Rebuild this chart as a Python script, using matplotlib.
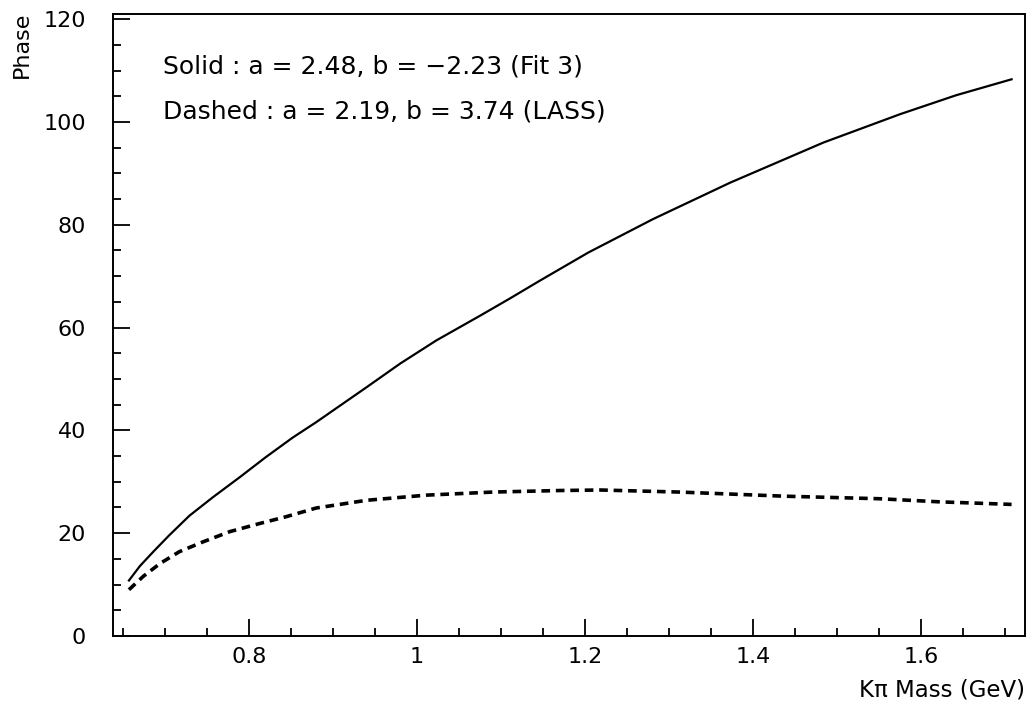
import matplotlib
matplotlib.use("Agg")
import matplotlib.pyplot as plt
from matplotlib.ticker import MultipleLocator, FuncFormatter

plt.rcParams['font.family'] = ['DejaVu Sans']

# Solid curve (Fit 3): a = 2.48, b = -2.23
solid_mass = [0.657, 0.670, 0.686, 0.705, 0.729, 0.757, 0.789, 0.820, 0.852,
              0.880, 0.940, 0.980, 1.023, 1.075, 1.111, 1.146, 1.204, 1.281,
              1.373, 1.484, 1.575, 1.642, 1.708]
solid_phase = [10.8, 13.6, 16.4, 19.6, 23.4, 27.0, 30.9, 34.8, 38.6,
               41.6, 48.4, 53.0, 57.5, 62.3, 65.7, 69.1, 74.6, 81.1,
               88.2, 96.0, 101.5, 105.2, 108.3]

# Dashed curve (LASS): a = 2.19, b = 3.74
dashed_mass = [0.657, 0.674, 0.694, 0.717, 0.745, 0.777, 0.813, 0.844, 0.880,
               0.940, 1.011, 1.090, 1.170, 1.218, 1.313, 1.437, 1.551, 1.622,
               1.708]
dashed_phase = [9.0, 11.6, 14.1, 16.4, 18.3, 20.3, 21.9, 23.2, 24.9,
                26.4, 27.4, 28.0, 28.3, 28.4, 28.0, 27.2, 26.7, 26.1,
                25.6]

x_ticks = [0.8, 1.0, 1.2, 1.4, 1.6]
y_ticks = [0, 20, 40, 60, 80, 100, 120]

fig = plt.figure(figsize=(10.31, 7.08), dpi=100)
ax = fig.add_axes([0.1096, 0.1017, 0.8846, 0.8785])

ax.plot(solid_mass, solid_phase, color='black', lw=1.6, solid_joinstyle='round')
ax.plot(dashed_mass, dashed_phase, color='black', lw=2.6, linestyle=(0, (2.4, 1.6)))

ax.set_xlim(0.638, 1.724)
ax.set_ylim(0, 121)

ax.set_xticks(x_ticks)
ax.set_yticks(y_ticks)
ax.xaxis.set_minor_locator(MultipleLocator(0.05))
ax.yaxis.set_minor_locator(MultipleLocator(5))

def fmt(v, pos):
    return f"{v:.1f}".rstrip('0').rstrip('.')
ax.xaxis.set_major_formatter(FuncFormatter(fmt))

ax.tick_params(which='both', direction='in', top=False, right=False, width=1.3, labelsize=16)
ax.tick_params(which='major', length=12)
ax.tick_params(which='minor', length=6)
ax.tick_params(axis='y', pad=19.5)
ax.tick_params(axis='x', pad=8)

for sp in ax.spines.values():
    sp.set_linewidth(1.4)

ax.text(0.0548, 0.905, "Solid : a = 2.48, b = \u22122.23 (Fit 3)", transform=ax.transAxes,
        fontsize=18, va='baseline', ha='left')
ax.text(0.0548, 0.832, "Dashed : a = 2.19, b = 3.74 (LASS)", transform=ax.transAxes,
        fontsize=18, va='baseline', ha='left')

fig.text(0.021, 0.984, "Phase", rotation=90, ha='center', va='top', fontsize=16)
fig.text(0.994, 0.025, "K\u03c0 Mass (GeV)", ha='right', va='center', fontsize=16.5)

fig.savefig("out.png", dpi=100)
